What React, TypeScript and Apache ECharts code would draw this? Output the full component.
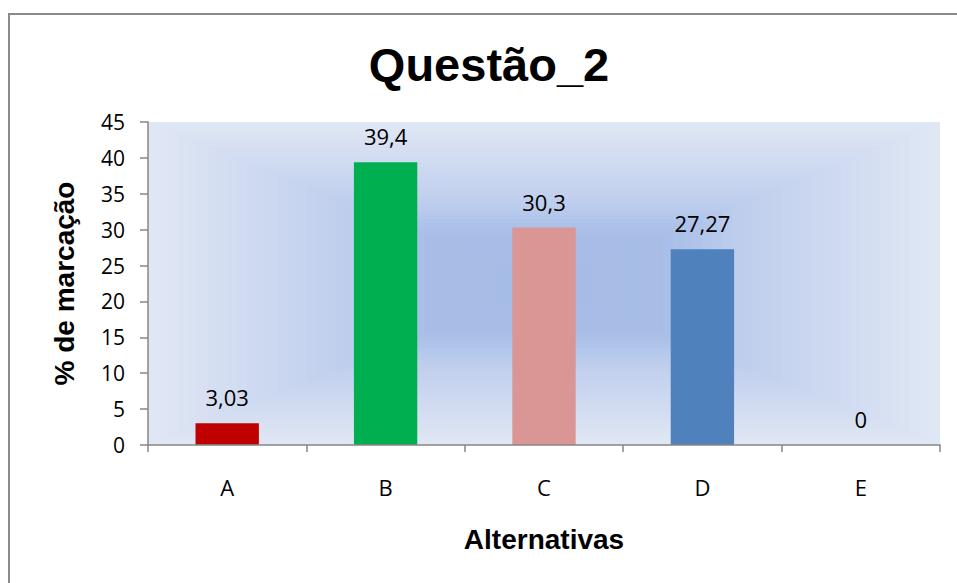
import React, { useEffect, useRef } from "react";
import * as echarts from "echarts";

const categories = ["A", "B", "C", "D", "E"];
const values = [3.03, 39.4, 30.3, 27.27, 0];
const barColors = ["#C00000", "#00B050", "#D99694", "#4F81BD", "#8064A2"];
const titleText = "Questão_2";
const xName = "Alternativas";
const yName = "% de marcação";

const W = 957;
const H = 583;
const G = { left: 148, top: 122, right: 17, bottom: 138 };

function hexToRgb(h: string) {
  const n = parseInt(h.slice(1), 16);
  return [(n >> 16) & 255, (n >> 8) & 255, n & 255];
}
const stops: [number, string][] = [
  [0, "#E0E7F4"],
  [0.15, "#D6DFF2"],
  [0.35, "#C8D5EF"],
  [0.5, "#BDCDEC"],
  [0.6, "#B0C4EA"],
  [0.7, "#A7BDE6"],
  [1, "#A6BCE6"],
];
function colorAt(t: number) {
  for (let i = 1; i < stops.length; i++) {
    if (t <= stops[i][0]) {
      const [t0, c0] = stops[i - 1];
      const [t1, c1] = stops[i];
      const f = (t - t0) / (t1 - t0);
      const a = hexToRgb(c0);
      const b = hexToRgb(c1);
      const m = a.map((v, k) => Math.round(v + (b[k] - v) * f));
      return `rgb(${m[0]},${m[1]},${m[2]})`;
    }
  }
  return stops[stops.length - 1][1];
}

export default function App() {
  const ref = useRef<HTMLDivElement>(null);
  useEffect(() => {
    if (!ref.current) return;
    const chart = echarts.init(ref.current, undefined, { renderer: "svg" });
    const pw = W - G.left - G.right;
    const ph = H - G.top - G.bottom;
    const bg: any[] = [];
    const N = 40;
    for (let i = 0; i < N; i++) {
      const t = i / N;
      bg.push({
        type: "rect",
        silent: true,
        z: -10,
        shape: {
          x: G.left + (t * pw) / 2,
          y: G.top + (t * ph) / 2,
          width: pw * (1 - t),
          height: ph * (1 - t),
        },
        style: { fill: colorAt(t) },
      });
    }
    chart.setOption({
      animation: false,
      backgroundColor: "#ffffff",
      graphic: [
        ...bg,
        {
          type: "rect",
          silent: true,
          z: -10,
          shape: { x: 9, y: 14, width: 1200, height: 1000 },
          style: { fill: "none", stroke: "#8a8a8a", lineWidth: 2 },
        },
        {
          type: "text",
          x: 489,
          y: 64,
          style: {
            text: titleText,
            fontFamily: "Liberation Sans, Arial, sans-serif",
            fontWeight: "bold",
            fontSize: 47,
            fill: "#000",
            align: "center",
            verticalAlign: "middle",
          },
        },
      ],
      grid: { ...G, containLabel: false },
      xAxis: {
        type: "category",
        data: categories,
        z: 5,
        name: xName,
        nameLocation: "middle",
        nameGap: 80,
        nameTextStyle: {
          fontFamily: "Liberation Sans, Arial, sans-serif",
          fontWeight: "bold",
          fontSize: 28,
          color: "#000",
        },
        axisLine: { show: true, lineStyle: { color: "#868686", width: 1.5 } },
        axisTick: { show: true, length: 7, lineStyle: { color: "#868686", width: 1.5 } },
        axisLabel: {
          margin: 31,
          fontFamily: "Open Sans, sans-serif",
          fontSize: 22,
          color: "#000",
        },
        splitLine: { show: false },
      },
      yAxis: {
        type: "value",
        min: 0,
        max: 45,
        interval: 5,
        z: 5,
        name: yName,
        nameLocation: "middle",
        nameGap: 70,
        nameTextStyle: {
          fontFamily: "Liberation Sans, Arial, sans-serif",
          fontWeight: "bold",
          fontSize: 28,
          color: "#000",
        },
        axisLine: { show: true, lineStyle: { color: "#868686", width: 1.5 } },
        axisTick: { show: true, length: 8, lineStyle: { color: "#868686", width: 1.5 } },
        axisLabel: {
          margin: 23,
          fontFamily: "Open Sans, sans-serif",
          fontSize: 21,
          color: "#000",
        },
        splitLine: { show: false },
      },
      series: [
        {
          type: "bar",
          data: values.map((v, i) => ({ value: v, itemStyle: { color: barColors[i] } })),
          barWidth: "40%",
          label: {
            show: true,
            position: "top",
            distance: 15,
            fontFamily: "Open Sans, sans-serif",
            fontSize: 22,
            color: "#000",
            formatter: (p: any) => String(p.value).replace(".", ","),
          },
        },
      ],
    });
    return () => chart.dispose();
  }, []);
  return (
    <div
      ref={ref}
      style={{ position: "fixed", left: 0, top: 0, width: W, height: H }}
    />
  );
}
